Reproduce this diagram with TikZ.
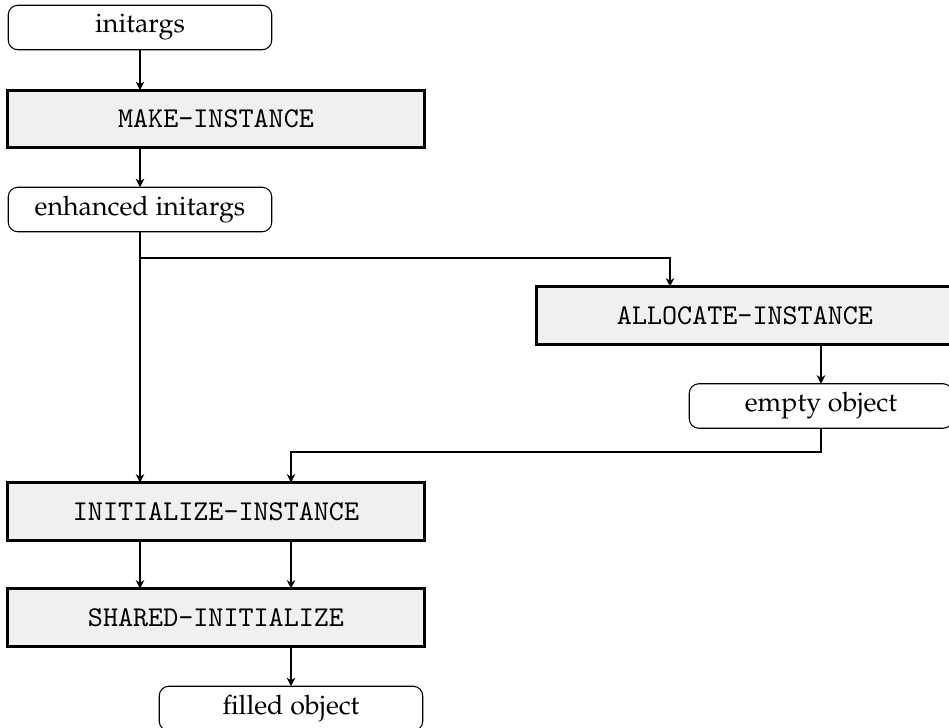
\documentclass[tikz,border=0pt]{standalone}
\usetikzlibrary{arrows.meta}
\begin{document}
\begin{tikzpicture}[x=0.373pt,y=-0.373pt,
  every node/.style={inner sep=0pt, outer sep=0pt},
  procbox/.style={draw, line width=1.1pt, fill=black!6, minimum width=155.5pt, minimum height=21.5pt, font=\fontsize{10.7}{12}\ttfamily},
  databox/.style={draw, line width=0.4pt, rounded corners=3.6pt, fill=white, minimum width=98.3pt, minimum height=16.6pt, font=\fontencoding{OT1}\fontfamily{ppl}\fontsize{10}{12}\selectfont},
  conn/.style={line width=0.4pt, -{Stealth[length=3.2pt,width=3.2pt,inset=1pt]}}]
\useasboundingbox (0,0) rectangle (949,728);
\node[databox] (init) at (140,27.5) {initargs};
\node[procbox] (make) at (216,119) {MAKE-INSTANCE};
\node[databox] (enh) at (140,209.5) {enhanced initargs};
\node[procbox] (alloc) at (745,315.5) {ALLOCATE-INSTANCE};
\node[databox] (empty) at (821,406) {empty object};
\node[procbox] (initinst) at (216,511.5) {INITIALIZE-INSTANCE};
\node[procbox] (shared) at (216,617.5) {SHARED-INITIALIZE};
\node[databox] (filled) at (291,708.5) {filled object};
\coordinate (br) at (140,258);
\coordinate (ba) at (670,258);
\coordinate (j) at (291,452);
\draw[conn] (init.south) -- (init.south |- make.north);
\draw[conn] (make.south -| enh.south) -- (enh.north);
\draw[conn] (enh.south) -- (enh.south |- initinst.north);
\draw[conn] (br) -- (ba) -- (ba |- alloc.north);
\draw[conn] (alloc.south -| empty.north) -- (empty.north);
\draw[conn] (empty.south) |- (j) -- (j |- initinst.north);
\draw[conn] (initinst.south -| enh.south) -- (shared.north -| enh.south);
\draw[conn] (initinst.south -| j) -- (shared.north -| j);
\draw[conn] (shared.south -| filled.north) -- (filled.north);
\end{tikzpicture}
\end{document}
